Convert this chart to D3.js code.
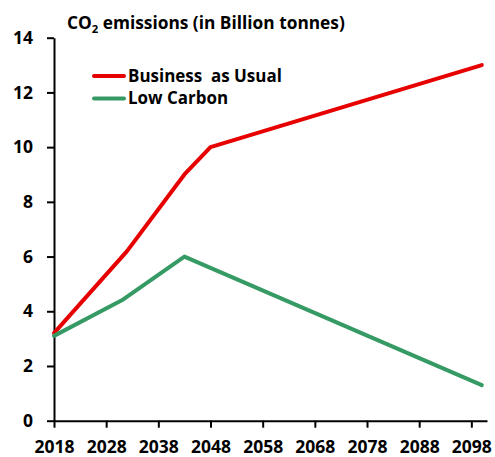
<!DOCTYPE html>
<html>
<head>
<meta charset="utf-8">
<script src="https://cdn.jsdelivr.net/npm/d3@7"></script>
<style>
  html, body { margin: 0; padding: 0; background: #fff; }
  svg { display: block; font-family: "Open Sans", Lato, sans-serif; }
</style>
</head>
<body>
<svg id="chart" width="495" height="457"></svg>
<script>
// Emission pathways, billion tonnes of CO2
const bauYears = [2018, 2032, 2043, 2048, 2100];
const bauValues = [3.2, 6.2, 9.0, 10.0, 13.0];
const lowYears = [2018, 2031, 2043, 2100];
const lowValues = [3.1, 4.4, 6.0, 1.3];
const xTickYears = [2018, 2028, 2038, 2048, 2058, 2068, 2078, 2088, 2098];
const yTickValues = [0, 2, 4, 6, 8, 10, 12, 14];
const seriesNames = ["Business  as Usual", "Low Carbon"];
const seriesColors = ["#e60000", "#359a63"];

const svg = d3.select("#chart");
const x = d3.scaleLinear().domain([2018, 2101]).range([54, 487]);
const y = d3.scaleLinear().domain([0, 14]).range([420.7, 37.7]);

// Shrink or grow a text's font so it spans the given width
function fitWidth(sel, width) {
  const node = sel.node();
  const size = parseFloat(sel.style("font-size"));
  const w = node.getComputedTextLength();
  sel.style("font-size", (size * width / w).toFixed(2) + "px");
}

// Axes
const yAxis = svg.append("g")
  .attr("transform", `translate(${x(2018)},0)`)
  .call(d3.axisLeft(y).tickValues(yTickValues).tickSize(7).tickSizeOuter(0).tickPadding(14));
const xAxis = svg.append("g")
  .attr("transform", `translate(0,${y(0)})`)
  .call(d3.axisBottom(x).tickValues(xTickYears).tickFormat(d3.format("d")).tickSize(7).tickSizeOuter(0).tickPadding(14));

[yAxis, xAxis].forEach(g => {
  g.selectAll("path.domain").attr("stroke", "#000").attr("stroke-width", 2);
  g.selectAll(".tick line").attr("stroke", "#000").attr("stroke-width", 2);
  g.selectAll(".tick text")
    .attr("fill", "#000")
    .style("font-size", "17.5px")
    .style("font-weight", "bold")
    .style("font-family", "'Open Sans', sans-serif");
});
xAxis.selectAll(".tick text").attr("dy", "0.62em");

// Series lines
const line = d3.line().x(d => x(d[0])).y(d => y(d[1]));
const series = [
  d3.zip(bauYears, bauValues),
  d3.zip(lowYears, lowValues)
];
series.forEach((pts, i) => {
  svg.append("path")
    .datum(pts)
    .attr("d", line)
    .attr("fill", "none")
    .attr("stroke", seriesColors[i])
    .attr("stroke-width", 4)
    .attr("stroke-linejoin", "round")
    .attr("stroke-linecap", "round");
});

// Title
const title = svg.append("text")
  .attr("x", 67)
  .attr("y", 28.5)
  .style("font-size", "14px")
  .style("font-weight", "bold")
  .attr("fill", "#000");
title.append("tspan").text("CO");
title.append("tspan").text("2").style("font-size", "0.65em").attr("dy", 4);
title.append("tspan").text(" emissions (in Billion tonnes)").attr("dy", -4);
fitWidth(title, 278);

// Legend
const legend = svg.append("g");
seriesNames.forEach((name, i) => {
  const ly = 76 + i * 22.5;
  legend.append("line")
    .attr("x1", 94).attr("x2", 124)
    .attr("y1", ly).attr("y2", ly)
    .attr("stroke", seriesColors[i])
    .attr("stroke-width", 4)
    .attr("stroke-linecap", "round");
  const t = legend.append("text")
    .attr("x", 128)
    .attr("y", ly + 5.5)
    .style("font-size", "14px")
    .style("font-weight", "bold")
    .style("white-space", "pre")
    .attr("xml:space", "preserve")
    .attr("fill", "#000")
    .text(name);
  if (i === 0) fitWidth(t, 154);
  else t.style("font-size", legend.select("text").style("font-size"));
});
</script>
</body>
</html>
